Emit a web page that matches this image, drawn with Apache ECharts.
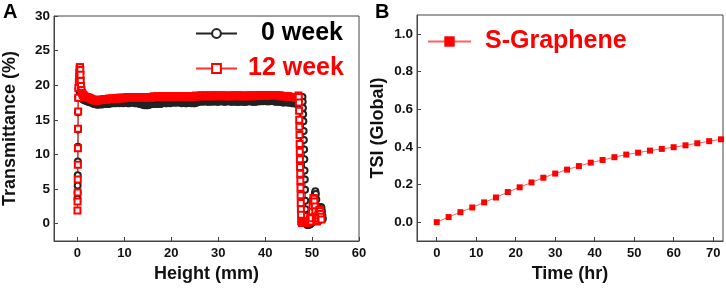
<!DOCTYPE html>
<html>
<head>
<meta charset="utf-8">
<script src="https://cdn.jsdelivr.net/npm/echarts@6/dist/echarts.min.js"></script>
<style>html,body{margin:0;padding:0;background:#fff;}#c{width:726px;height:291px;}</style>
</head>
<body>
<div id="c"></div>
<script>
// ---------- Panel A data: [height (mm), transmittance (%)] ----------
const week0 = [
[0,3.6],[0.02,4.5],[0.04,5.5],[0.06,7.0],[0.08,9.0],[0.1,11.1],[0.12,13.6],[0.14,16.1],[0.16,18.2],[0.2,19.5],[0.4,19.2],[0.6,18.8],[0.8,18.4],
[1.0,18.1],[1.15,18.0],[1.3,17.9],[1.45,17.9],[1.6,17.8],[1.8,17.8],[2.0,17.7],[2.25,17.6],[2.5,17.6],[2.75,17.5],[3.0,17.5],[3.25,17.4],[3.5,17.3],[3.75,17.3],[4.0,17.2],[4.25,17.2],[4.5,17.2],[4.75,17.2],
[5,17.3],[5.25,17.2],[5.5,17.3],[5.75,17.4],[6,17.3],[6.25,17.3],[6.5,17.4],[6.75,17.3],[7,17.4],[7.25,17.5],[7.5,17.4],[7.75,17.4],[8,17.5],[8.25,17.4],[8.5,17.5],[8.75,17.5],[9,17.4],[9.25,17.5],[9.5,17.5],[9.75,17.4],
[10,17.5],[10.25,17.6],[10.5,17.5],[10.75,17.4],[11,17.4],[11.25,17.5],[11.5,17.5],[11.75,17.6],[12,17.5],[12.25,17.4],[12.5,17.4],[12.75,17.5],[13,17.4],[13.25,17.3],[13.5,17.3],[13.75,17.2],[14,17.2],[14.25,17.1],[14.5,17.2],[14.75,17.1],
[15,17.1],[15.25,17.2],[15.5,17.2],[15.75,17.3],[16,17.3],[16.25,17.3],[16.5,17.4],[16.75,17.3],[17,17.3],[17.25,17.4],[17.5,17.4],[17.75,17.3],[18,17.4],[18.25,17.5],[18.5,17.5],[18.75,17.4],[19,17.4],[19.25,17.5],[19.5,17.5],[19.75,17.4],
[20,17.5],[20.25,17.6],[20.5,17.5],[20.75,17.5],[21,17.5],[21.25,17.5],[21.5,17.6],[21.75,17.5],[22,17.5],[22.25,17.4],[22.5,17.5],[22.75,17.5],[23,17.4],[23.25,17.4],[23.5,17.5],[23.75,17.5],[24,17.5],[24.25,17.4],[24.5,17.5],[24.75,17.4],
[25,17.4],[25.25,17.5],[25.5,17.5],[25.75,17.6],[26,17.6],[26.25,17.7],[26.5,17.7],[26.75,17.6],[27,17.7],[27.25,17.7],[27.5,17.7],[27.75,17.6],[28,17.6],[28.25,17.7],[28.5,17.7],[28.75,17.6],[29,17.7],[29.25,17.7],[29.5,17.7],[29.75,17.6],
[30,17.6],[30.25,17.7],[30.5,17.7],[30.75,17.7],[31,17.7],[31.25,17.6],[31.5,17.6],[31.75,17.7],[32,17.7],[32.25,17.7],[32.5,17.7],[32.75,17.6],[33,17.6],[33.25,17.7],[33.5,17.7],[33.75,17.6],[34,17.6],[34.25,17.6],[34.5,17.6],[34.75,17.7],
[35,17.7],[35.25,17.6],[35.5,17.6],[35.75,17.6],[36,17.6],[36.25,17.7],[36.5,17.7],[36.75,17.7],[37,17.7],[37.25,17.6],[37.5,17.6],[37.75,17.6],[38,17.6],[38.25,17.7],[38.5,17.7],[38.75,17.7],[39,17.7],[39.25,17.8],[39.5,17.7],[39.75,17.8],
[40,17.8],[40.25,17.7],[40.5,17.7],[40.75,17.7],[41,17.7],[41.25,17.8],[41.5,17.8],[41.75,17.7],[42,17.7],[42.25,17.6],[42.5,17.6],[42.75,17.7],[43,17.6],[43.25,17.6],[43.5,17.6],[43.75,17.5],[44,17.5],[44.25,17.6],[44.5,17.6],[44.75,17.5],
[45,17.5],[45.25,17.5],[45.5,17.5],[45.75,17.4],[46,17.4],[46.25,17.4],[46.5,17.4],[46.75,17.3],[47,17.3],[47.2,17.4],[47.4,17.5],[47.55,17.7],[47.7,17.9],[47.85,18.2],[47.95,18.3],
[48.0,17.6],[48.05,16.7],[48.1,15.8],[48.15,14.8],[48.2,13.4],[48.25,12.1],[48.3,10.7],[48.35,9.3],[48.4,7.7],[48.45,6.4],[48.5,4.9],[48.55,3.3],[48.6,2.1],[48.65,1.1],[48.7,0.4],[48.8,0.0],[48.9,-0.1],[49.0,-0.2],[49.1,-0.1],[49.2,-0.2],[49.3,-0.1],[49.4,0.0],[49.5,-0.1],[49.6,0.1],[49.7,0.0],[49.8,0.1],[49.9,0.3],
[50.0,0.8],[50.2,1.6],[50.4,2.8],[50.5,3.8],[50.6,4.4],[50.7,4.7],[50.8,4.3],[50.9,3.5],[51.0,2.5],[51.1,1.5],[51.2,0.9],[51.3,0.5],[51.4,0.4],[51.5,0.6],[51.6,1.0],[51.7,1.5],[51.8,2.0],[51.9,2.4],[52.0,2.3],[52.1,1.8],[52.2,1.2],[52.3,0.7]
];
const week12 = [
[0,1.9],[0.02,3.2],[0.04,4.5],[0.06,6.4],[0.08,8.5],[0.1,10.9],[0.12,13.7],[0.14,16.2],[0.16,18.2],[0.2,19.6],[0.3,20.5],[0.35,21.2],[0.4,21.8],[0.45,22.3],[0.5,22.6],[0.55,22.6],[0.6,22.2],[0.65,21.5],[0.7,20.6],[0.75,19.9],[0.85,19.3],
[1.0,18.9],[1.1,18.7],[1.2,18.6],[1.35,18.5],[1.5,18.4],[1.75,18.3],[2.0,18.3],[2.25,18.2],[2.5,18.2],[2.75,18.1],[3.0,18.0],[3.25,17.9],[3.5,17.9],[3.75,17.8],[4.0,17.8],[4.25,17.8],[4.5,17.8],[4.75,17.9],
[5,17.9],[5.25,17.9],[5.5,17.9],[5.75,18.0],[6,18.0],[6.25,17.9],[6.5,18.0],[6.75,18.1],[7,18.0],[7.25,18.1],[7.5,18.1],[7.75,18.0],[8,18.1],[8.25,18.1],[8.5,18.1],[8.75,18.2],[9,18.1],[9.25,18.2],[9.5,18.2],[9.75,18.1],
[10,18.2],[10.25,18.2],[10.5,18.2],[10.75,18.3],[11,18.3],[11.25,18.2],[11.5,18.2],[11.75,18.3],[12,18.3],[12.25,18.2],[12.5,18.3],[12.75,18.3],[13,18.2],[13.25,18.3],[13.5,18.3],[13.75,18.2],[14,18.2],[14.25,18.3],[14.5,18.2],[14.75,18.3],
[15,18.3],[15.25,18.3],[15.5,18.3],[15.75,18.2],[16,18.3],[16.25,18.4],[16.5,18.3],[16.75,18.3],[17,18.4],[17.25,18.3],[17.5,18.3],[17.75,18.4],[18,18.4],[18.25,18.3],[18.5,18.3],[18.75,18.4],[19,18.4],[19.25,18.4],[19.5,18.4],[19.75,18.3],
[20,18.4],[20.25,18.4],[20.5,18.4],[20.75,18.4],[21,18.3],[21.25,18.4],[21.5,18.4],[21.75,18.4],[22,18.4],[22.25,18.3],[22.5,18.4],[22.75,18.4],[23,18.3],[23.25,18.4],[23.5,18.4],[23.75,18.4],[24,18.4],[24.25,18.3],[24.5,18.4],[24.75,18.4],
[25,18.4],[25.25,18.5],[25.5,18.4],[25.75,18.4],[26,18.4],[26.25,18.5],[26.5,18.5],[26.75,18.4],[27,18.5],[27.25,18.5],[27.5,18.4],[27.75,18.4],[28,18.5],[28.25,18.5],[28.5,18.5],[28.75,18.4],[29,18.4],[29.25,18.5],[29.5,18.5],[29.75,18.5],
[30,18.5],[30.25,18.4],[30.5,18.4],[30.75,18.5],[31,18.5],[31.25,18.5],[31.5,18.5],[31.75,18.4],[32,18.4],[32.25,18.4],[32.5,18.4],[32.75,18.5],[33,18.5],[33.25,18.5],[33.5,18.5],[33.75,18.4],[34,18.4],[34.25,18.5],[34.5,18.5],[34.75,18.5],
[35,18.5],[35.25,18.4],[35.5,18.4],[35.75,18.4],[36,18.4],[36.25,18.5],[36.5,18.5],[36.75,18.5],[37,18.5],[37.25,18.4],[37.5,18.4],[37.75,18.5],[38,18.5],[38.25,18.5],[38.5,18.5],[38.75,18.5],[39,18.5],[39.25,18.5],[39.5,18.5],[39.75,18.6],
[40,18.5],[40.25,18.5],[40.5,18.5],[40.75,18.6],[41,18.5],[41.25,18.6],[41.5,18.6],[41.75,18.6],[42,18.6],[42.25,18.6],[42.5,18.5],[42.75,18.5],[43,18.5],[43.25,18.5],[43.5,18.4],[43.75,18.4],[44,18.4],[44.25,18.4],[44.5,18.4],[44.75,18.4],
[45,18.4],[45.25,18.3],[45.5,18.3],[45.75,18.3],[46,18.3],[46.25,18.3],[46.5,18.2],[46.75,18.2],[47,18.2],[47.1,18.5],[47.15,18.3],
[47.2,17.5],[47.23,16.3],[47.26,15.0],[47.29,14.0],[47.32,12.8],[47.35,11.5],[47.38,10.4],[47.41,9.3],[47.44,8.2],[47.47,7.2],[47.5,6.2],[47.53,5.2],[47.56,4.1],[47.59,3.0],[47.62,2.1],[47.65,1.3],[47.68,0.4],
[47.8,0.1],[47.9,0.2],[48.0,0.1],[48.1,0.3],[48.2,0.2],[48.3,0.1],[48.4,0.3],[48.5,0.2],[48.6,0.1],[48.7,0.2],[48.8,0.3],[48.9,0.1],[49.0,0.2],[49.1,0.3],[49.2,0.2],[49.3,0.3],[49.4,0.4],[49.5,0.6],[49.6,1.0],[49.7,0.6],[49.8,0.3],[49.9,0.8],
[50.0,1.8],[50.1,2.6],[50.2,3.3],[50.3,3.7],[50.4,3.6],[50.5,3.2],[50.6,2.5],[50.7,1.8],[50.8,1.0],[50.9,0.5],[51.0,0.3],[51.1,0.5],[51.2,0.8],[51.3,1.2],[51.4,1.6],[51.5,1.9],[51.6,2.0],[51.7,1.8],[51.8,1.4],[51.9,1.0],[52.0,0.6]
];
const ticksAx = [0,10,20,30,40,50,60];
const ticksAy = [0,5,10,15,20,25,30];

// ---------- Panel B data ----------
const timeHr = [0,3,6,9,12,15,18,21,24,27,30,33,36,39,42,45,48,51,54,57,60,63,66,69,72];
const tsi = [0,0.027,0.053,0.078,0.105,0.131,0.16,0.185,0.211,0.236,0.258,0.279,0.298,0.316,0.330,0.345,0.359,0.369,0.380,0.389,0.398,0.408,0.419,0.430,0.440];
const ticksBx = [0,10,20,30,40,50,60,70];
const ticksBy = [0,0.2,0.4,0.6,0.8,1.0];

const FONT = '"Liberation Sans", Arial, Helvetica, sans-serif';
const frame = '#444';

function xAx(idx, min, max, ticks, name, gap) {
  return {
    type: 'value', gridIndex: idx, min: min, max: max,
    name: name, nameLocation: 'middle', nameGap: gap,
    nameTextStyle: {fontFamily: FONT, fontWeight: 'bold', fontSize: 18, color: '#111'},
    axisLine: {show: true, onZero: false, lineStyle: {color: frame, width: 1}},
    axisTick: {show: true, inside: true, length: 4, customValues: ticks, lineStyle: {color: frame}},
    axisLabel: {customValues: ticks, margin: 6, fontFamily: FONT, fontWeight: 'bold', fontSize: 13, color: '#111'},
    splitLine: {show: false}
  };
}
function yAx(idx, min, max, ticks, name, gap, fmt) {
  return {
    type: 'value', gridIndex: idx, min: min, max: max,
    name: name, nameLocation: 'middle', nameGap: gap,
    nameTextStyle: {fontFamily: FONT, fontWeight: 'bold', fontSize: 18, color: '#111'},
    axisLine: {show: true, onZero: false, lineStyle: {color: frame, width: 1}},
    axisTick: {show: true, inside: true, length: 4, customValues: ticks, lineStyle: {color: frame}},
    axisLabel: {customValues: ticks, margin: 4, fontFamily: FONT, fontWeight: 'bold', fontSize: 13.5, color: '#111', formatter: fmt},
    splitLine: {show: false}
  };
}

const chart = echarts.init(document.getElementById('c'), null, {renderer: 'canvas'});
chart.setOption({
  animation: false,
  backgroundColor: '#fff',
  title: [
    {text: 'A', left: 3, top: 2, padding: 0, textStyle: {fontFamily: FONT, fontWeight: 'bold', fontSize: 20, color: '#000'}},
    {text: 'B', left: 375, top: 2, padding: 0, textStyle: {fontFamily: FONT, fontWeight: 'bold', fontSize: 20, color: '#000'}}
  ],
  grid: [
    {left: 53, right: 367, top: 16, bottom: 50, show: true, borderColor: frame, borderWidth: 1},
    {left: 417, right: 3, top: 15, bottom: 50, show: true, borderColor: frame, borderWidth: 1}
  ],
  legend: [
    {data: ['0 week'], left: 195, top: 21, padding: 0, itemWidth: 41, itemHeight: 11,
     formatter: '{a|{name}}',
     textStyle: {rich: {a: {fontFamily: FONT, fontWeight: 'bold', fontSize: 25, color: '#000', lineHeight: 28, padding: [0,0,0,19]}}}},
    {data: ['12 week'], left: 195, top: 56, padding: 0, itemWidth: 41, itemHeight: 11,
     formatter: '{a|{name}}',
     textStyle: {rich: {a: {fontFamily: FONT, fontWeight: 'bold', fontSize: 25, color: '#ff0000', lineHeight: 28, padding: [0,0,0,6]}}}},
    {data: ['S-Graphene'], left: 427, top: 29, padding: 0, itemWidth: 43, itemHeight: 13,
     formatter: '{a|{name}}',
     textStyle: {rich: {a: {fontFamily: FONT, fontWeight: 'bold', fontSize: 25, color: '#ff0000', lineHeight: 28, padding: [0,0,0,9]}}}}
  ],
  xAxis: [
    xAx(0, -5, 60, ticksAx, 'Height (mm)', 24),
    xAx(1, -5, 72.5, ticksBx, 'Time (hr)', 24)
  ],
  yAxis: [
    yAx(0, -2.5, 30, ticksAy, 'Transmittance (%)', 35, v => String(v)),
    yAx(1, -0.1, 1.1, ticksBy, 'TSI (Global)', 30, v => v.toFixed(1))
  ],
  series: [
    {name: '0 week', type: 'line', xAxisIndex: 0, yAxisIndex: 0, data: week0,
     symbol: 'emptyCircle', symbolSize: 6, showSymbol: true,
     itemStyle: {color: '#222', borderWidth: 1},
     lineStyle: {color: '#222', width: 1}},
    {name: '12 week', type: 'line', xAxisIndex: 0, yAxisIndex: 0, data: week12,
     symbol: 'emptyRect', symbolSize: 6, showSymbol: true,
     itemStyle: {color: '#ff0000', borderWidth: 1},
     lineStyle: {color: '#ff3030', width: 1}},
    {name: 'S-Graphene', type: 'line', xAxisIndex: 1, yAxisIndex: 1,
     data: timeHr.map((t, i) => [t, tsi[i]]),
     symbol: 'rect', symbolSize: 6, showSymbol: true,
     itemStyle: {color: '#ff0000'},
     lineStyle: {color: '#ff6060', width: 1}}
  ]
});
</script>
</body>
</html>
